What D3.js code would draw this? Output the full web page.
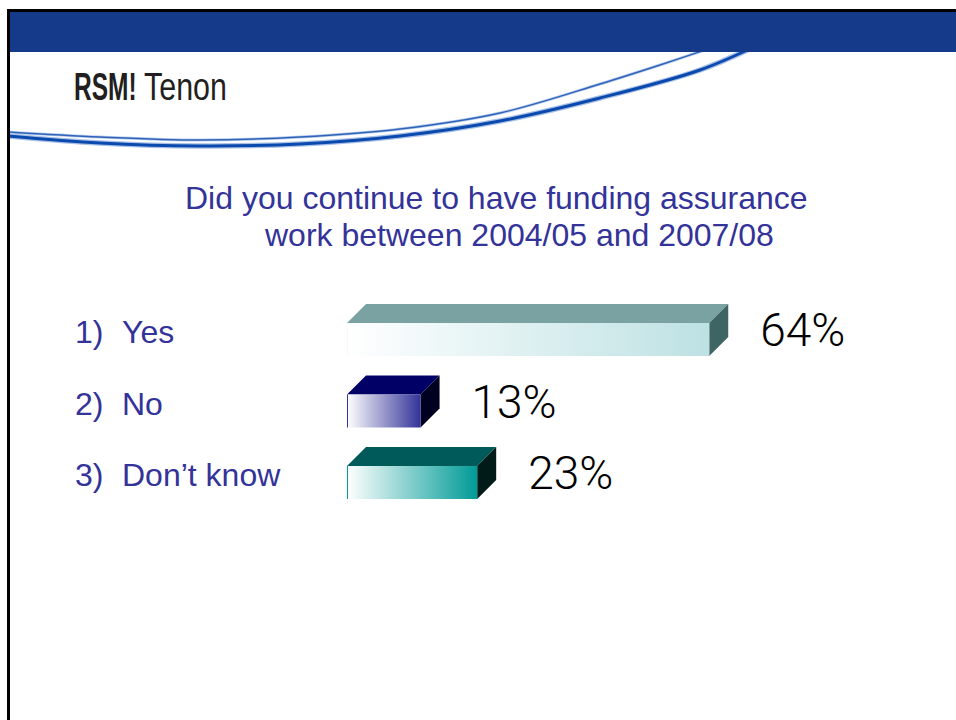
<!DOCTYPE html>
<html>
<head>
<meta charset="utf-8">
<script src="https://cdn.jsdelivr.net/npm/d3@7"></script>
<style>
html,body{margin:0;padding:0;background:#fff;}
svg{display:block;}
</style>
</head>
<body>
<script>
// ---- data ----
const categories = ["Yes", "No", "Don’t know"];
const itemNumbers = ["1)", "2)", "3)"];
const values = [64, 13, 23];
const valueLabels = ["64%", "13%", "23%"];
const titleLines = ["Did you continue to have funding assurance", "work between 2004/05 and 2007/08"];

// ---- styles ----
const frontEnd = ["#bde1e3", "#333399", "#009b97"];
const topCol   = ["#7aa2a2", "#000066", "#005a5a"];
const sideCol  = ["#3e6464", "#000021", "#011b19"];
const edgeCol  = ["#f4fafa", "#333399", "#009b97"];

const W = 956, H = 720;
const svg = d3.select("body").append("svg").attr("width", W).attr("height", H);

// ---- slide frame ----
svg.append("rect").attr("x", 0).attr("y", 0).attr("width", W).attr("height", H).attr("fill", "#fff");

// swoosh lines (drawn before band so band covers ends)
const curve = d3.line().curve(d3.curveCatmullRom.alpha(0.5));
const thick = [[8,136],[100,143],[200,146],[300,144],[400,136],[500,121],[600,98],[700,70],[760,44]];
const thin  = [[8,132],[100,137],[200,140],[300,137],[400,129],[500,113],[600,84],[660,65],[720,45]];
const sw = svg.append("g");
sw.append("path").attr("d", curve(thick)).attr("fill","none").attr("stroke","#a9c0e6").attr("stroke-width",5.5);
sw.append("path").attr("d", curve(thick)).attr("fill","none").attr("stroke","#0a4aae").attr("stroke-width",3);
sw.append("path").attr("d", curve(thin)).attr("fill","none").attr("stroke","#b9cdee").attr("stroke-width",3);
sw.append("path").attr("d", curve(thin)).attr("fill","none").attr("stroke","#2f63b8").attr("stroke-width",1.4);

svg.append("rect").attr("x", 10).attr("y", 12).attr("width", W - 10).attr("height", 40).attr("fill", "#153a89");
svg.append("rect").attr("x", 7).attr("y", 9).attr("width", W - 7).attr("height", 3).attr("fill", "#000");
svg.append("rect").attr("x", 7).attr("y", 9).attr("width", 3).attr("height", H - 9).attr("fill", "#000");

// logo (condensed via horizontal scale)
svg.append("text").attr("transform", "translate(74,100) scale(0.70,1.12)")
  .attr("font-family", "Liberation Sans, Arial, sans-serif").attr("font-weight", "bold")
  .attr("font-size", 35).attr("fill", "#231f20").text("RSM!");
svg.append("text").attr("transform", "translate(144,100) scale(0.87,1.12)")
  .attr("font-family", "Liberation Sans, Arial, sans-serif")
  .attr("font-size", 35).attr("fill", "#231f20").text("Tenon");

// title
const titleX = [185, 265], titleY = [209, 246];
svg.selectAll("text.title").data(titleLines).join("text").attr("class", "title")
  .attr("x", (d, i) => titleX[i]).attr("y", (d, i) => titleY[i])
  .attr("font-family", "Liberation Sans, Arial, sans-serif").attr("font-size", 32)
  .attr("fill", "#333399").text(d => d);

// ---- scales ----
const x = d3.scaleLinear().domain([0, 100]).range([0, 566]);
const y = d3.scaleBand().domain(categories).range([304, 304 + 71.5 * 3]).paddingInner(0).paddingOuter(0);
const x0 = 347, depthX = 19, depthY = 19, frontH = 33;

const defs = svg.append("defs");
values.forEach((v, i) => {
  const g = defs.append("linearGradient").attr("id", "grad" + i)
    .attr("x1", "0%").attr("x2", "100%").attr("y1", "0%").attr("y2", "0%");
  g.append("stop").attr("offset", "0%").attr("stop-color", "#ffffff");
  g.append("stop").attr("offset", "100%").attr("stop-color", frontEnd[i]);
});

const rows = categories.map((c, i) => ({ c, i, v: values[i], label: valueLabels[i], num: itemNumbers[i] }));
const bars = svg.selectAll("g.bar").data(rows).join("g").attr("class", "bar");

bars.each(function (d) {
  const g = d3.select(this);
  const w = x(d.v);
  const yt = y(d.c);
  const yf = yt + depthY;
  // top face
  g.append("path")
    .attr("d", `M${x0},${yf}L${x0 + depthX},${yt}L${x0 + w + depthX},${yt}L${x0 + w},${yf}Z`)
    .attr("fill", topCol[d.i]);
  // side face
  g.append("path")
    .attr("d", `M${x0 + w},${yf}L${x0 + w + depthX},${yt}L${x0 + w + depthX},${yt + frontH}L${x0 + w},${yf + frontH}Z`)
    .attr("fill", sideCol[d.i]);
  // front face
  g.append("rect").attr("x", x0).attr("y", yf).attr("width", w).attr("height", frontH)
    .attr("fill", `url(#grad${d.i})`);
  g.append("line").attr("x1", x0 + 0.5).attr("x2", x0 + 0.5).attr("y1", yf).attr("y2", yf + frontH)
    .attr("stroke", edgeCol[d.i]).attr("stroke-width", 1);
  // value label
  g.append("text").attr("x", x0 + w + depthX + 32).attr("y", yf + 23)
    .attr("font-family", "Roboto, sans-serif").attr("font-weight", 300).attr("font-size", 46)
    .attr("fill", "#000").text(d.label);
  // category label
  g.append("text").attr("x", 75).attr("y", yf + 20)
    .attr("font-family", "Liberation Sans, Arial, sans-serif").attr("font-size", 32)
    .attr("fill", "#333399").text(d.num);
  g.append("text").attr("x", 122).attr("y", yf + 20)
    .attr("font-family", "Liberation Sans, Arial, sans-serif").attr("font-size", 32)
    .attr("fill", "#333399").text(d.c);
});
</script>
</body>
</html>
